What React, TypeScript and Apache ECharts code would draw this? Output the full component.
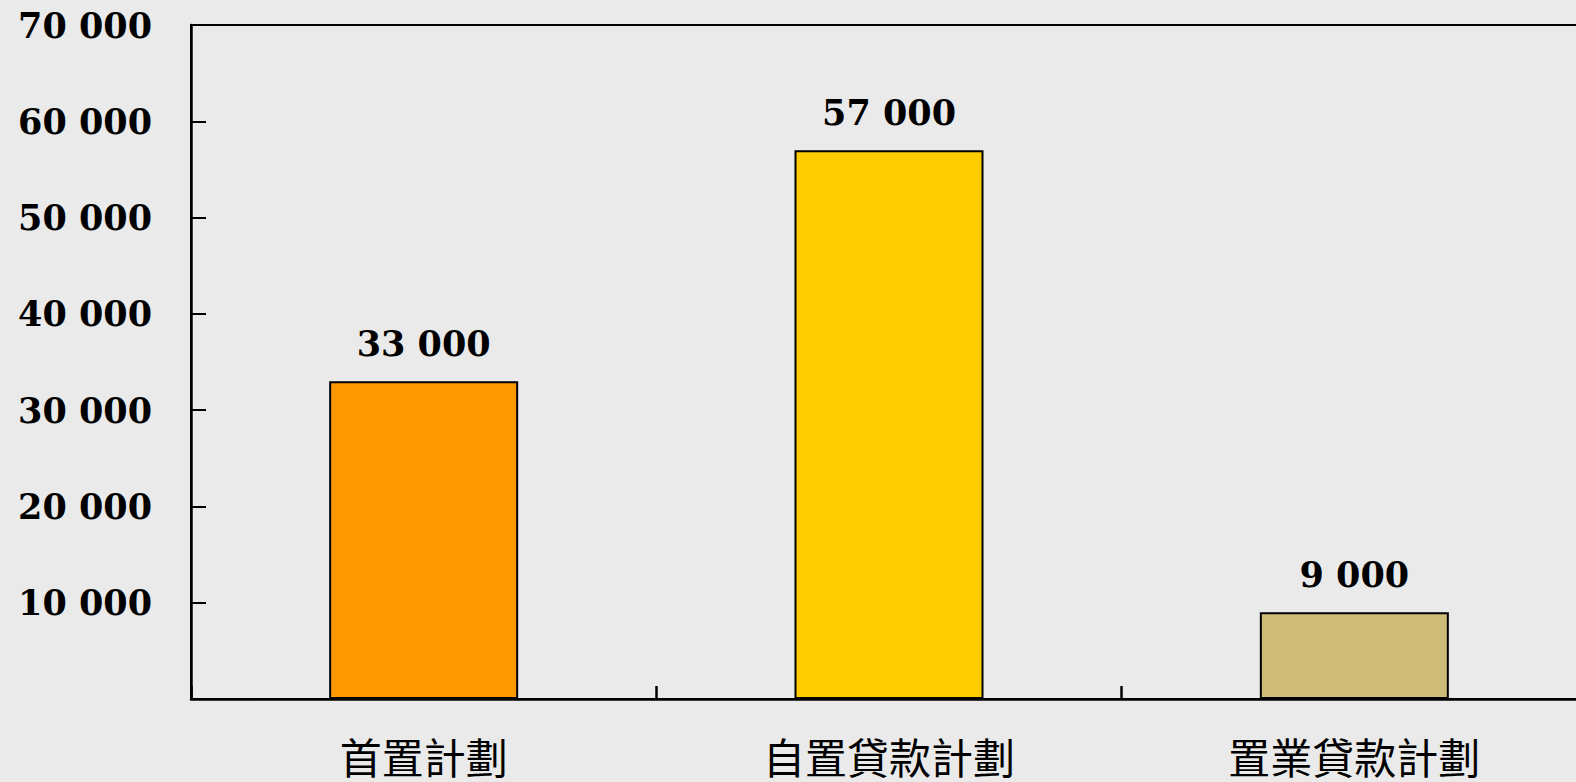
import React, { useEffect, useRef } from "react";
import * as echarts from "echarts";

const categories = ["首置計劃", "自置貸款計劃", "置業貸款計劃"];
const values = [33000, 57000, 9000];
const barColors = ["#FF9900", "#FFCC00", "#CFBC78"];
const yMax = 70000;
const yInterval = 10000;

const fmt = (v: number) => String(v).replace(/\B(?=(\d{3})+(?!\d))/g, " ");

export default function App() {
  const ref = useRef<HTMLDivElement>(null);
  useEffect(() => {
    if (!ref.current) return;
    const chart = echarts.init(ref.current, undefined, { renderer: "svg" });
    const serif = "'DejaVu Serif', 'Liberation Serif', serif";
    chart.setOption({
      animation: false,
      backgroundColor: "#EAEAEA",
      grid: {
        left: 191,
        top: 25,
        right: -11,
        bottom: 83,
        outerBoundsMode: "none",
        containLabel: false,
        show: true,
        borderColor: "#000",
        borderWidth: 2,
        backgroundColor: "transparent",
      },
      xAxis: {
        type: "category",
        data: categories,
        axisLine: { show: true, lineStyle: { color: "#000", width: 2.5 } },
        axisTick: {
          show: true,
          inside: true,
          interval: 0,
          alignWithLabel: false,
          length: 13,
          lineStyle: { color: "#000", width: 2.5 },
        },
        axisLabel: {
          color: "#000",
          fontFamily: "'Noto Sans CJK TC', sans-serif",
          fontSize: 42,
          lineHeight: 42,
          margin: 35,
        },
        splitLine: { show: false },
      },
      yAxis: {
        type: "value",
        min: 0,
        max: yMax,
        interval: yInterval,
        axisLine: { show: true, lineStyle: { color: "#000", width: 2.5 } },
        axisTick: { show: true, inside: true, length: 15, lineStyle: { color: "#000", width: 2 } },
        splitLine: { show: false },
        axisLabel: {
          color: "#000",
          fontFamily: serif,
          fontWeight: "bold",
          fontSize: 35,
          margin: 39,
          formatter: (v: number) => (v === 0 ? "" : fmt(v)),
        },
      },
      series: [
        {
          type: "bar",
          barWidth: 189,
          data: values.map((v, i) => ({
            value: v,
            itemStyle: { color: barColors[i], borderColor: "#000", borderWidth: 2 },
          })),
          label: {
            show: true,
            position: "top",
            distance: 20,
            color: "#000",
            fontFamily: serif,
            fontWeight: "bold",
            fontSize: 35,
            formatter: (p: any) => fmt(p.value),
          },
        },
      ],
    });
    return () => chart.dispose();
  }, []);
  return (
    <div
      ref={ref}
      style={{ position: "fixed", left: 0, top: 0, width: 1576, height: 782 }}
    />
  );
}
